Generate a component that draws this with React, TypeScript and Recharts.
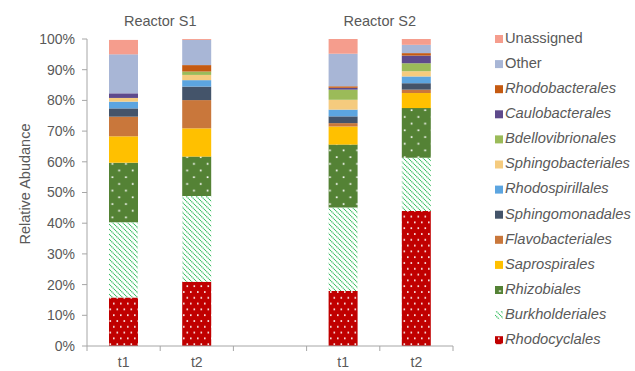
import React from "react";
import { BarChart, Bar, XAxis, YAxis } from "recharts";

// ---- data ----
const categoryIds = ["S1-t1", "S1-t2", "gap", "S2-t1", "S2-t2"];
const categoryLabels = ["t1", "t2", "", "t1", "t2"];
const groupTitles = ["Reactor S1", "Reactor S2"];
const yTicks = [0, 10, 20, 30, 40, 50, 60, 70, 80, 90, 100];

// stack order bottom -> top
const seriesNames = [
  "Rhodocyclales",
  "Burkholderiales",
  "Rhizobiales",
  "Saprospirales",
  "Flavobacteriales",
  "Sphingomonadales",
  "Rhodospirillales",
  "Sphingobacteriales",
  "Bdellovibrionales",
  "Caulobacterales",
  "Rhodobacterales",
  "Other",
  "Unassigned",
];
const italicSeries = [true, true, true, true, true, true, true, true, true, true, true, false, false];

const rhodocyclales = [15.8, 20.9, 0, 17.9, 44.0];
const burkholderiales = [24.5, 28.0, 0, 27.2, 17.3];
const rhizobiales = [19.4, 12.8, 0, 20.5, 16.2];
const saprospirales = [8.6, 9.2, 0, 5.9, 4.9];
const flavobacteriales = [6.4, 9.2, 0, 1.1, 1.1];
const sphingomonadales = [2.7, 4.4, 0, 2.2, 2.1];
const rhodospirillales = [2.2, 2.1, 0, 2.2, 2.2];
const sphingobacteriales = [1.2, 1.7, 0, 3.2, 1.7];
const bdellovibrionales = [0, 1.1, 0, 3.3, 2.6];
const caulobacterales = [1.5, 0, 0, 0.6, 2.5];
const rhodobacterales = [0, 2.1, 0, 0.5, 0.8];
const other = [12.7, 8.2, 0, 10.6, 2.7];
const unassigned = [4.7, 0.3, 0, 4.8, 1.9];

const seriesValues = [
  rhodocyclales,
  burkholderiales,
  rhizobiales,
  saprospirales,
  flavobacteriales,
  sphingomonadales,
  rhodospirillales,
  sphingobacteriales,
  bdellovibrionales,
  caulobacterales,
  rhodobacterales,
  other,
  unassigned,
];

const seriesFills = [
  "url(#patRhodocyclales)",
  "url(#patBurkholderiales)",
  "url(#patRhizobiales)",
  "#FFC000",
  "#C9773B",
  "#44546A",
  "#5CA5E0",
  "#F5CB7E",
  "#9BBB59",
  "#5E4A8C",
  "#C55A11",
  "#A8B6D6",
  "#F59D8D",
];

const rows = categoryIds.map((id, i) => {
  const row: Record<string, string | number> = { id, label: categoryLabels[i] };
  seriesNames.forEach((name, s) => {
    row[name] = seriesValues[s][i];
  });
  return row;
});

// ---- layout ----
const W = 635;
const H = 371;
const M_TOP = 39;
const M_RIGHT = 182;
const Y_AXIS_W = 87;
const X_AXIS_H = 25;
const PLOT_LEFT = Y_AXIS_W;
const PLOT_RIGHT = W - M_RIGHT;
const PLOT_BOTTOM = H - X_AXIS_H;
const BAND = (PLOT_RIGHT - PLOT_LEFT) / categoryIds.length;
const FONT = "'Liberation Sans', Arial, sans-serif";
const TEXT = "#595959";
const AXIS = "#A6A6A6";

const XTick = (props: any) => {
  const { x, payload, index } = props;
  const i = categoryIds.indexOf(payload.value);
  const label = i >= 0 ? categoryLabels[i] : "";
  const half = BAND / 2;
  return (
    <g>
      <line x1={x - half} x2={x - half} y1={PLOT_BOTTOM} y2={PLOT_BOTTOM + 5} stroke={AXIS} />
      {index === categoryIds.length - 1 && (
        <line x1={x + half} x2={x + half} y1={PLOT_BOTTOM} y2={PLOT_BOTTOM + 5} stroke={AXIS} />
      )}
      <text x={x} y={PLOT_BOTTOM + 17} textAnchor="middle" dominantBaseline="middle" fill={TEXT} fontSize={14} fontFamily={FONT}>
        {label}
      </text>
    </g>
  );
};

const Patterns = () => (
  <defs>
    <pattern id="patRhodocyclales" patternUnits="userSpaceOnUse" width="7" height="11.6">
      <rect width="7" height="11.6" fill="#C00000" />
      <rect x="1" y="1.2" width="1.6" height="1.6" fill="#FFFFFF" />
      <rect x="4.5" y="7" width="1.6" height="1.6" fill="#FFFFFF" />
    </pattern>
    <pattern id="patRhizobiales" patternUnits="userSpaceOnUse" width="13.6" height="13.4">
      <rect width="13.6" height="13.4" fill="#548235" />
      <rect x="2.7" y="2.2" width="1.7" height="1.7" fill="#FFFFFF" />
      <rect x="9.5" y="8.9" width="1.7" height="1.7" fill="#FFFFFF" />
    </pattern>
    <pattern id="patBurkholderiales" patternUnits="userSpaceOnUse" width="5" height="5">
      <rect width="5" height="5" fill="#FFFFFF" />
      <path d="M0,0 L5,5 M-1,4 L1,6 M4,-1 L6,1" stroke="#30BC5C" strokeWidth="1.1" strokeDasharray="1.3,0.6" />
    </pattern>
  </defs>
);

const legendOrder = [...seriesNames.keys()].reverse();

export default function App() {
  return (
    <div style={{ position: "absolute", left: 0, top: 0, width: W, height: H, background: "#fff" }}>
      <BarChart
        width={W}
        height={H}
        data={rows}
        margin={{ top: M_TOP, right: M_RIGHT, bottom: 0, left: 0 }}
        barSize={29}
      >
        <Patterns />
        <XAxis
          dataKey="id"
          height={X_AXIS_H}
          stroke={AXIS}
          tickLine={false}
          tick={<XTick />}
          interval={0}
        />
        <YAxis
          width={Y_AXIS_W}
          domain={[0, 100]}
          ticks={yTicks}
          tickFormatter={(v: number) => `${v}%`}
          stroke={AXIS}
          tickSize={5}
          tickMargin={7}
          tick={{ fill: TEXT, fontSize: 14, fontFamily: FONT }}
          interval={0}
        />
        {seriesNames.map((name, s) => (
          <Bar key={name} dataKey={name} stackId="a" fill={seriesFills[s]} isAnimationActive={false} />
        ))}
      </BarChart>
      <svg width={W} height={H} style={{ position: "absolute", left: 0, top: 0, pointerEvents: "none" }}>
        <text
          x={PLOT_LEFT + BAND}
          y={22}
          textAnchor="middle"
          dominantBaseline="middle"
          fill={TEXT}
          fontSize={14.5}
          fontFamily={FONT}
        >
          {groupTitles[0]}
        </text>
        <text
          x={PLOT_LEFT + BAND * 4}
          y={22}
          textAnchor="middle"
          dominantBaseline="middle"
          fill={TEXT}
          fontSize={14.5}
          fontFamily={FONT}
        >
          {groupTitles[1]}
        </text>
        <text
          transform="translate(26,184) rotate(-90)"
          textAnchor="middle"
          dominantBaseline="middle"
          fill={TEXT}
          fontSize={14.5}
          fontFamily={FONT}
        >
          Relative Abudance
        </text>
        {legendOrder.map((s, k) => {
          const cy = 39 + k * 25.1;
          return (
            <g key={seriesNames[s]}>
              <rect x={495} y={cy - 4} width={8} height={8} fill={seriesFills[s]} />
              <text
                x={505}
                y={cy}
                dominantBaseline="middle"
                fill={TEXT}
                fontSize={14.7}
                fontFamily={FONT}
                fontStyle={italicSeries[s] ? "italic" : "normal"}
              >
                {seriesNames[s]}
              </text>
            </g>
          );
        })}
      </svg>
    </div>
  );
}
